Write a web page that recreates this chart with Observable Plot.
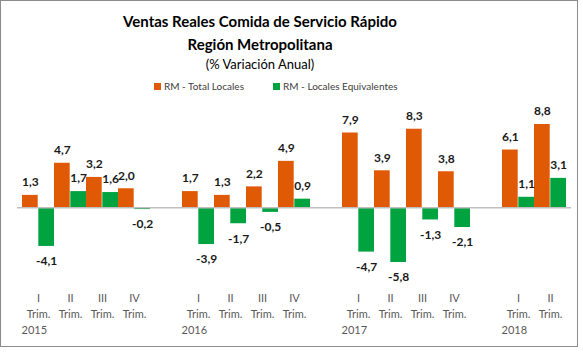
<!DOCTYPE html>
<html>
<head>
<meta charset="utf-8">
<script src="https://cdn.jsdelivr.net/npm/d3@7"></script>
<script src="https://cdn.jsdelivr.net/npm/@observablehq/plot@0.6"></script>
<style>
  body { margin: 0; background: #fff; font-family: Lato, "Open Sans", sans-serif; }
  #wrap { position: relative; width: 583px; height: 358px; overflow: hidden; }
  #frame { position: absolute; left: 0; top: 0; width: 578px; height: 347px; box-sizing: border-box; border: 1.5px solid #8c8c8c; pointer-events: none; }
  .t { position: absolute; left: 0; width: 520px; text-align: center; color: #000; white-space: nowrap; }
  #t1 { top: 12px; font-size: 15px; font-weight: bold; }
  #t2 { top: 35px; font-size: 15px; font-weight: bold; }
  #t3 { top: 56px; font-size: 13px; }
  .lg { position: absolute; top: 80px; font-size: 10px; color: #404040; white-space: nowrap; }
  .sw { display: inline-block; width: 7px; height: 7px; margin-right: 3px; vertical-align: 0px; }
  #chart { position: absolute; left: 0; top: 95px; }
</style>
</head>
<body>
<div id="wrap">
  <div class="t" id="t1">Ventas Reales Comida de Servicio Rápido</div>
  <div class="t" id="t2">Región Metropolitana</div>
  <div class="t" id="t3">(% Variación Anual)</div>
  <div class="lg" style="left:154px"><span class="sw" style="background:#E05A05"></span>RM - Total Locales</div>
  <div class="lg" style="left:273px"><span class="sw" style="background:#00A33F"></span>RM - Locales Equivalentes</div>
  <div id="chart"></div>
  <div id="frame"></div>
</div>
<script>
// Slots on the category axis (gaps separate the years)
const slots = ["2015-I","2015-II","2015-III","2015-IV","gap-2015",
               "2016-I","2016-II","2016-III","2016-IV","gap-2016",
               "2017-I","2017-II","2017-III","2017-IV","gap-2017",
               "2018-I","2018-II"];
const quarters = ["2015-I","2015-II","2015-III","2015-IV",
                  "2016-I","2016-II","2016-III","2016-IV",
                  "2017-I","2017-II","2017-III","2017-IV",
                  "2018-I","2018-II"];
const quarterLabels = ["I","II","III","IV","I","II","III","IV","I","II","III","IV","I","II"];
const yearLabels = ["2015","","","","2016","","","","2017","","","","2018",""];
const seriesNames = ["RM - Total Locales","RM - Locales Equivalentes"];
const totalLocales = [1.3,4.7,3.2,2.0,1.7,1.3,2.2,4.9,7.9,3.9,8.3,3.8,6.1,8.8];
const localesEquivalentes = [-4.1,1.7,1.6,-0.2,-3.9,-1.7,-0.5,0.9,-4.7,-5.8,-1.3,-2.1,1.1,3.1];

const orange = "#E05A05", green = "#00A33F";
const rows = quarters.map((q, i) => ({q, total: totalLocales[i], equiv: localesEquivalentes[i]}));
const tickText = new Map(quarters.map((q, i) =>
  [q, quarterLabels[i] + "\nTrim.\n" + (yearLabels[i] ? yearLabels[i] + "\u00a0\u00a0\u00a0" : "")]));

const loc = d3.formatLocale({decimal: ",", thousands: ".", grouping: [3], currency: ["", ""], minus: "-"});
const fmt = loc.format(".1f");

const W = 583, ML = 17, MR = 12;
const half = (W - ML - MR) / slots.length / 2;

const chart = Plot.plot({
  width: W,
  height: 250,
  marginLeft: ML,
  marginRight: MR,
  marginTop: 29,
  marginBottom: 83,
  style: {fontFamily: "Lato, 'Open Sans', sans-serif", background: "transparent"},
  x: {domain: slots, padding: 0, axis: null},
  y: {domain: [-5.8, 8.8], axis: null},
  marks: [
    Plot.barY(rows, {x: "q", y: "total", fill: orange, insetRight: half}),
    Plot.barY(rows, {x: "q", y: "equiv", fill: green, insetLeft: half}),
    Plot.ruleY([0], {stroke: "#bfbfbf", strokeWidth: 1.5}),
    Plot.text(rows.filter(d => d.total >= 0), {x: "q", y: "total", text: d => fmt(d.total), dx: -half / 2, dy: -13, fontSize: 12, fontWeight: "bold", fill: "#1a1a1a"}),
    Plot.text(rows.filter(d => d.total < 0), {x: "q", y: "total", text: d => fmt(d.total), dx: -half / 2, dy: 15, fontSize: 12, fontWeight: "bold", fill: "#1a1a1a"}),
    Plot.text(rows.filter(d => d.equiv >= 0), {x: "q", y: "equiv", text: d => fmt(d.equiv), dx: half / 2, dy: -13, fontSize: 12, fontWeight: "bold", fill: "#1a1a1a"}),
    Plot.text(rows.filter(d => d.equiv < 0), {x: "q", y: "equiv", text: d => fmt(d.equiv), dx: half / 2, dy: 15, fontSize: 12, fontWeight: "bold", fill: "#1a1a1a"}),
    Plot.axisX(quarters, {tickSize: 0, tickPadding: 28, label: null, tickFormat: d => tickText.get(d), fontSize: 11, lineHeight: 1.45, fill: "#595959"})
  ]
});
document.getElementById("chart").appendChild(chart);
</script>
</body>
</html>
